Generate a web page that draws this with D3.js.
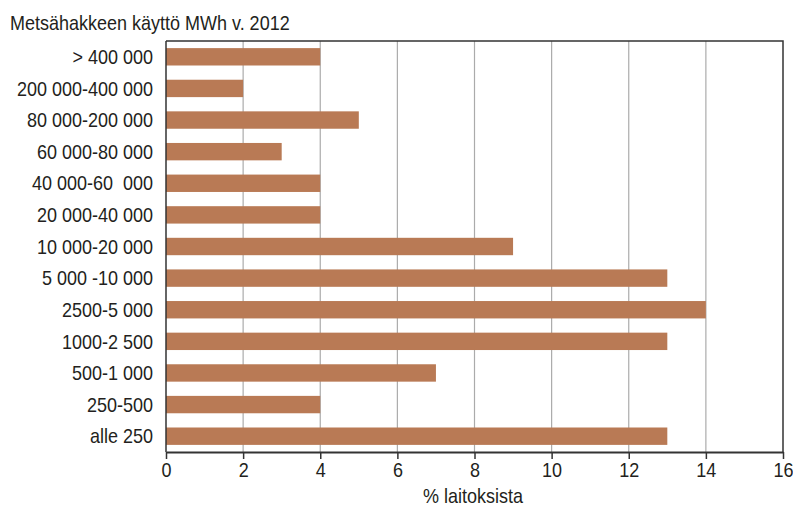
<!DOCTYPE html>
<html>
<head>
<meta charset="utf-8">
<script src="https://cdn.jsdelivr.net/npm/d3@7"></script>
<style>
  html, body { margin: 0; padding: 0; background: #fff; }
  svg text { font-family: "Liberation Sans", Arial, sans-serif; fill: #231f20; }
</style>
</head>
<body>
<svg id="chart" width="793" height="506"></svg>
<script>
// Plant size classes (annual forest chip use, MWh) and share of plants (%)
const categories = [
  "> 400 000", "200 000-400 000", "80 000-200 000", "60 000-80 000",
  "40 000-60  000", "20 000-40 000", "10 000-20 000", "5 000 -10 000",
  "2500-5 000", "1000-2 500", "500-1 000", "250-500", "alle 250"
];
const values = [4, 2, 5, 3, 4, 4, 9, 13, 14, 13, 7, 4, 13];
const xTicks = [0, 2, 4, 6, 8, 10, 12, 14, 16];
const title = "Metsähakkeen käyttö MWh v. 2012";
const xTitle = "% laitoksista";

const svg = d3.select("#chart");
const m = { left: 166, right: 783, top: 41, bottom: 452 };
const fontSize = 20, squeeze = 0.9;

const x = d3.scaleLinear().domain([0, 16]).range([m.left, m.right]);
const y = d3.scaleBand().domain(categories).range([m.top, m.bottom]).paddingInner(0.45).paddingOuter(0.225);

// vertical gridlines
svg.append("g").selectAll("line").data(xTicks.filter(d => d > 0 && d < 16)).join("line")
  .attr("x1", d => x(d)).attr("x2", d => x(d))
  .attr("y1", m.top).attr("y2", m.bottom)
  .attr("stroke", "#ababab").attr("stroke-width", 1.2);

// bars
svg.append("g").selectAll("rect").data(categories).join("rect")
  .attr("x", x(0))
  .attr("y", d => y(d))
  .attr("width", (d, i) => x(values[i]) - x(0))
  .attr("height", y.bandwidth())
  .attr("fill", "#b97a55");

// frame: top and right edges
svg.append("path")
  .attr("d", `M${m.left},${m.top}H${m.right}V${m.bottom}`)
  .attr("fill", "none").attr("stroke", "#333").attr("stroke-width", 1.5);

// x axis
const xAxis = d3.axisBottom(x).tickValues(xTicks).tickSize(7).tickPadding(4).tickSizeOuter(0);
const gx = svg.append("g").attr("transform", `translate(0,${m.bottom})`).call(xAxis);
gx.select(".domain").attr("stroke", "#333").attr("stroke-width", 2);
gx.selectAll(".tick line").attr("stroke", "#333").attr("stroke-width", 1.5);
gx.selectAll(".tick text").attr("font-size", fontSize).attr("fill", "#231f20")
  .attr("font-family", "Liberation Sans, Arial, sans-serif")
  .attr("transform", `scale(${squeeze},1)`);

// y axis line
svg.append("line")
  .attr("x1", m.left).attr("x2", m.left).attr("y1", m.top).attr("y2", m.bottom)
  .attr("stroke", "#333").attr("stroke-width", 1.5);

// category labels
svg.append("g").selectAll("text").data(categories).join("text")
  .attr("transform", d => `translate(153,${y(d) + y.bandwidth() / 2}) scale(${squeeze},1)`)
  .attr("text-anchor", "end").attr("dy", "0.36em")
  .attr("font-size", fontSize)
  .style("white-space", "pre")
  .text(d => d);

// title
svg.append("text")
  .attr("transform", `translate(10,30) scale(${squeeze},1)`)
  .attr("font-size", fontSize).text(title);

// x axis title
svg.append("text")
  .attr("transform", `translate(473,503) scale(${squeeze},1)`)
  .attr("text-anchor", "middle").attr("font-size", fontSize).text(xTitle);
</script>
</body>
</html>
